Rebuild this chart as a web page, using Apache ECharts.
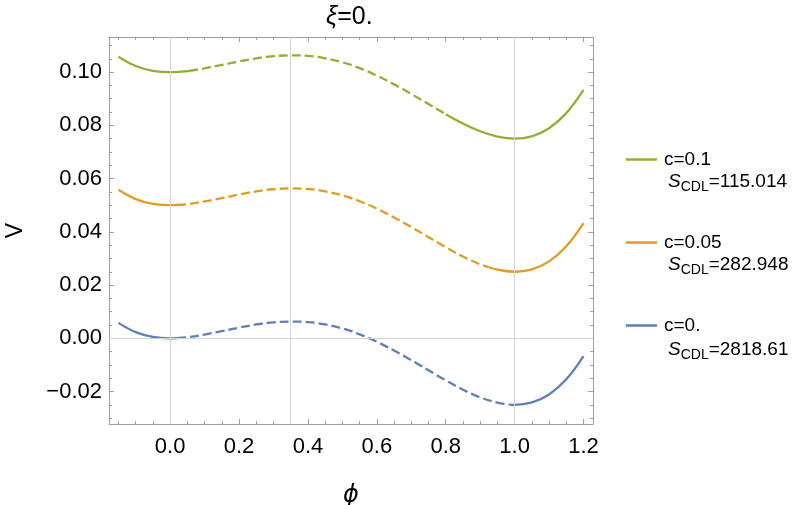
<!DOCTYPE html>
<html>
<head>
<meta charset="utf-8">
<script src="https://cdn.jsdelivr.net/npm/echarts@6/dist/echarts.min.js"></script>
<style>
  html, body { margin: 0; padding: 0; background: #fff; }
  #main { width: 803px; height: 505px; }
</style>
</head>
<body>
<div id="main"></div>
<script>
// phi samples
var phi = [-0.15, -0.10, -0.05, 0.00, 0.05, 0.10, 0.15, 0.20, 0.25, 0.30, 0.35, 0.40, 0.45, 0.50,
  0.55, 0.60, 0.65, 0.70, 0.75, 0.80, 0.85, 0.90, 0.95, 1.00, 1.05, 1.10, 1.15, 1.20];

var vGreen = [0.1058, 0.1023, 0.1005, 0.1000, 0.1004, 0.1014, 0.1027, 0.1040, 0.1052, 0.1060, 0.1063, 0.1061, 0.1052, 0.1037,
  0.1015, 0.0987, 0.0954, 0.0918, 0.0880, 0.0842, 0.0807, 0.0778, 0.0758, 0.0750, 0.0759, 0.0789, 0.0846, 0.0933];
var vOrange = [0.0558, 0.0523, 0.0505, 0.0500, 0.0504, 0.0514, 0.0527, 0.0540, 0.0552, 0.0560, 0.0563, 0.0561, 0.0552, 0.0537,
  0.0515, 0.0487, 0.0454, 0.0418, 0.0380, 0.0342, 0.0307, 0.0278, 0.0258, 0.0250, 0.0259, 0.0289, 0.0346, 0.0433];
var vBlue = [0.0058, 0.0023, 0.0005, 0.0000, 0.0004, 0.0014, 0.0027, 0.0040, 0.0052, 0.0060, 0.0063, 0.0061, 0.0052, 0.0037,
  0.0015, -0.0013, -0.0046, -0.0082, -0.0120, -0.0158, -0.0193, -0.0222, -0.0242, -0.0250, -0.0241, -0.0211, -0.0154, -0.0067];

// where the dashed (unstable) part starts / ends: [phi, V]
var edgesGreen = [[0.055, 0.1005], [0.80, 0.0842]];
var edgesOrange = [[0.02, 0.0501], [0.925, 0.0267]];
var edgesBlue = [[0.02, 0.0001], [0.985, -0.0249]];

var names = ['c=0.1', 'c=0.05', 'c=0.'];
var actions = ['115.014', '282.948', '2818.61'];
var colors = ['#8FB032', '#E19C24', '#5E81B5'];

var xTicks = [0, 0.2, 0.4, 0.6, 0.8, 1.0, 1.2];
var yTicks = [-0.02, 0, 0.02, 0.04, 0.06, 0.08, 0.10];
var gridX = [0, 0.352, 1];
var gridY = [0];

var X_MIN = -0.1775, X_MAX = 1.2275, Y_MIN = -0.0322, Y_MAX = 0.1132;
var FONT = "'Liberation Sans', Arial, sans-serif";
var FRAME = '#a0a0a0';

function minors(lo, hi, step, majors) {
  var out = [];
  var start = Math.ceil(lo / step - 1e-9);
  for (var k = start; k * step <= hi + 1e-9; k++) {
    var v = +(k * step).toFixed(4);
    if (majors.indexOf(v) < 0) out.push(v);
  }
  return out;
}
var xMinor = minors(X_MIN, X_MAX, 0.05, xTicks);
var yMinor = minors(Y_MIN, Y_MAX, 0.005, yTicks);

// split a curve into solid / dashed / solid pieces
function pieces(vals, edges) {
  var a = [], d = [], b = [];
  for (var i = 0; i < phi.length; i++) {
    var p = phi[i];
    if (p < edges[0][0]) a.push([p, vals[i]]);
    else if (p > edges[1][0]) b.push([p, vals[i]]);
    else if (p > edges[0][0] && p < edges[1][0]) d.push([p, vals[i]]);
  }
  a.push(edges[0]);
  d.unshift(edges[0]); d.push(edges[1]);
  b.unshift(edges[1]);
  return [a, d, b];
}

function xAx(pos, ticks, len, showLine, showLabel) {
  return {
    type: 'value', position: pos, min: X_MIN, max: X_MAX,
    axisLine: { show: showLine, onZero: false, lineStyle: { color: FRAME, width: 1 } },
    axisTick: { show: true, inside: true, length: len, customValues: ticks, lineStyle: { color: FRAME } },
    axisLabel: {
      show: showLabel, customValues: ticks, margin: 12, color: '#000', fontSize: 22, fontFamily: FONT,
      formatter: function (v) { return v.toFixed(1); }
    },
    splitLine: { show: false },
    name: showLabel ? '\u03D5' : '', nameLocation: 'middle', nameGap: 60,
    nameTextStyle: { fontSize: 24, fontStyle: 'italic', fontFamily: "'DejaVu Sans', sans-serif", color: '#000' }
  };
}
function yAx(pos, ticks, len, showLine, showLabel) {
  return {
    type: 'value', position: pos, min: Y_MIN, max: Y_MAX,
    axisLine: { show: showLine, onZero: false, lineStyle: { color: FRAME, width: 1 } },
    axisTick: { show: true, inside: true, length: len, customValues: ticks, lineStyle: { color: FRAME } },
    axisLabel: {
      show: showLabel, customValues: ticks, margin: 7, color: '#000', fontSize: 22, fontFamily: FONT,
      formatter: function (v) { return v < 0 ? '\u2212' + (-v).toFixed(2) : v.toFixed(2); }
    },
    splitLine: { show: false },
    name: showLabel ? 'V' : '', nameLocation: 'middle', nameGap: 82,
    nameTextStyle: { fontSize: 23, fontFamily: FONT, color: '#000' }
  };
}

var series = [{
  type: 'line', data: [], z: 1, silent: true,
  markLine: {
    silent: true, symbol: 'none', label: { show: false }, animation: false,
    lineStyle: { color: '#d4d4d4', width: 1, type: 'solid' },
    data: gridX.map(function (v) { return { xAxis: v }; }).concat(gridY.map(function (v) { return { yAxis: v }; }))
  }
}];
[[vGreen, edgesGreen], [vOrange, edgesOrange], [vBlue, edgesBlue]].forEach(function (c, i) {
  var ps = pieces(c[0], c[1]);
  ps.forEach(function (d, j) {
    series.push({
      name: j === 0 ? names[i] : names[i] + ' ' + j,
      type: 'line', data: d, smooth: 0.4, symbol: 'none', z: 3,
      color: colors[i],
      lineStyle: { color: colors[i], width: 2.3, type: j === 1 ? [9, 4] : 'solid' }
    });
  });
});

var legendTops = [145, 228, 311];
var legends = names.map(function (n, i) {
  return {
    data: [n], orient: 'vertical', left: 621, top: legendTops[i],
    icon: 'rect', itemWidth: 31, itemHeight: 2.5, itemGap: 8, selectedMode: false,
    textStyle: { fontSize: 19, fontFamily: FONT, color: '#000', padding: [0, 0, 0, 2] }
  };
});

var sTops = [185, 268, 353];
var graphics = [{
  type: 'text', left: 351 - 25, top: 5,
  style: {
    text: '{i|\u03BE}{n|=0.}', fill: '#000',
    rich: {
      i: { fontSize: 25, fontStyle: 'italic', fontFamily: FONT },
      n: { fontSize: 25, fontFamily: FONT }
    }
  }
}];
sTops.forEach(function (y, i) {
  graphics.push({
    type: 'text', left: 668, top: y - 13,
    style: {
      text: '{i|S}{sub|CDL}{n|=' + actions[i] + '}', fill: '#000',
      rich: {
        i: { fontSize: 19, fontStyle: 'italic', fontFamily: FONT, lineHeight: 25 },
        sub: { fontSize: 14, fontFamily: FONT, lineHeight: 25, verticalAlign: 'bottom' },
        n: { fontSize: 19, fontFamily: FONT, lineHeight: 25 }
      }
    }
  });
});

var chart = echarts.init(document.getElementById('main'));
chart.setOption({
  animation: false,
  backgroundColor: '#fff',
  grid: { left: 109, right: 210, top: 37, bottom: 81, outerBoundsMode: 'none' },
  xAxis: [
    xAx('bottom', xTicks, 5, true, true),
    xAx('bottom', xMinor, 3, false, false),
    xAx('top', xTicks, 5, true, false),
    xAx('top', xMinor, 3, false, false)
  ],
  yAxis: [
    yAx('left', yTicks, 5, true, true),
    yAx('left', yMinor, 3, false, false),
    yAx('right', yTicks, 5, true, false),
    yAx('right', yMinor, 3, false, false)
  ],
  legend: legends,
  graphic: graphics,
  series: series
});
</script>
</body>
</html>
